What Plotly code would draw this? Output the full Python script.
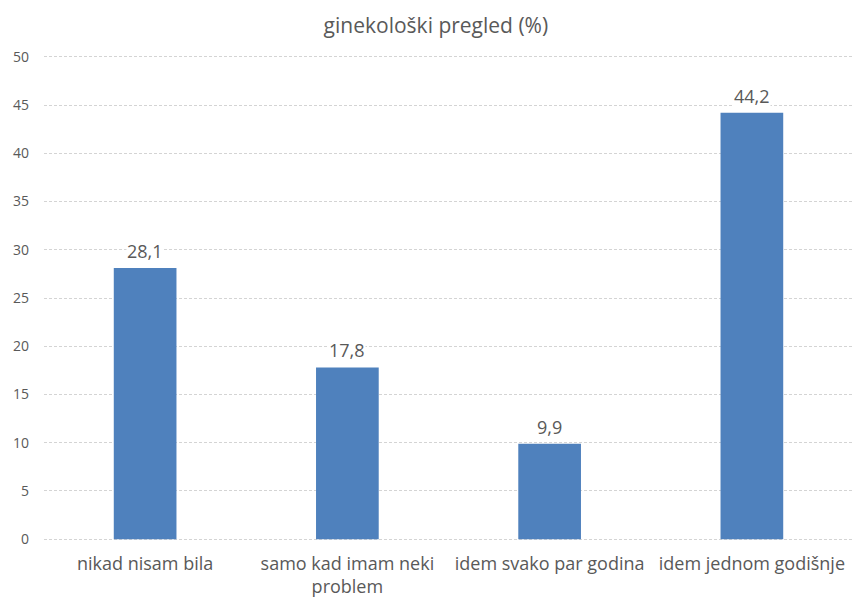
import plotly.graph_objects as go

# Survey answers and their shares (%)
categories = ["nikad nisam bila", "samo kad imam neki<br>problem",
              "idem svako par godina", "idem jednom godišnje"]
values = [28.1, 17.8, 9.9, 44.2]
y_ticks = [0, 5, 10, 15, 20, 25, 30, 35, 40, 45, 50]

BAR = "#4F81BD"
TEXT = "#595959"
FONT = "Open Sans, Liberation Sans, sans-serif"

fig = go.Figure(go.Bar(
    x=categories, y=values, marker_color=BAR,
    marker_line_width=0, hoverinfo="skip",
))

# Value labels sit above each bar on a white patch that hides the gridline
for c, v in zip(categories, values):
    fig.add_annotation(
        x=c, y=v, text=f"{v:.1f}".replace(".", ","), showarrow=False,
        yanchor="bottom", yshift=4, bgcolor="white", borderpad=0,
        font=dict(family=FONT, size=18, color=TEXT),
    )

fig.update_layout(
    width=853, height=600,
    margin=dict(l=44, r=0, t=53, b=57, autoexpand=False),
    paper_bgcolor="white", plot_bgcolor="white",
    bargap=0.69, showlegend=False,
    separators=",.",
    title=dict(text="ginekološki pregled (%)", x=0.511, xref="container",
               y=1 - 26 / 600, yref="container", yanchor="middle",
               xanchor="center",
               font=dict(family=FONT, size=21, color=TEXT)),
    font=dict(family=FONT, color=TEXT),
)
# Pad the range a little so the 0 and 50 gridlines are drawn too
fig.update_yaxes(
    range=[-0.4, 50.4], tickvals=y_ticks, showgrid=True,
    gridcolor="#d4d4d4", griddash="3px,2px", gridwidth=1,
    zeroline=False, showline=False, ticks="", ticklabelstandoff=14,
    automargin=False,
    tickfont=dict(family=FONT, size=14, color=TEXT),
)
fig.update_xaxes(
    showgrid=False, showline=False, ticks="", ticklabelstandoff=8,
    automargin=False,
    tickfont=dict(family=FONT, size=18, color=TEXT),
)

fig.write_html("out.html")
